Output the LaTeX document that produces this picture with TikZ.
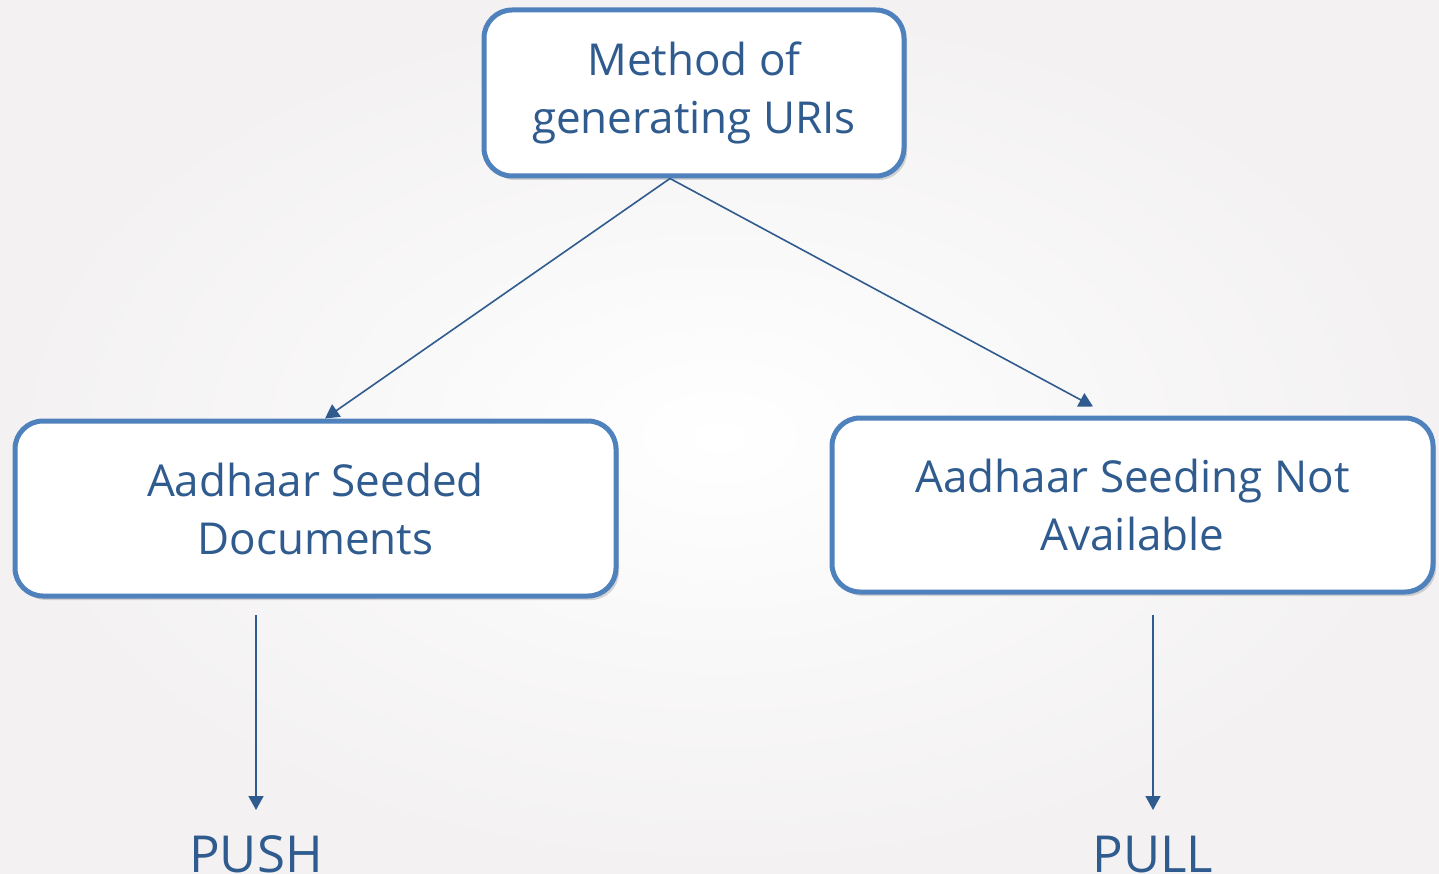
\documentclass[tikz,border=0pt]{standalone}
\usepackage{fontspec}
\setmainfont{Open Sans}
\usetikzlibrary{shadows,arrows.meta}
\definecolor{boxblue}{HTML}{4F81BD}
\definecolor{txtblue}{HTML}{2F5B8E}
\definecolor{bgedge}{HTML}{F3F1F1}
\begin{document}
\begin{tikzpicture}[x=1pt,y=-1pt,
  box/.style={draw=boxblue, line width=5pt, rounded corners=28pt, fill=white,
    drop shadow={shadow xshift=3pt,shadow yshift=-4pt,opacity=0.25,fill=black!60},
    text=txtblue, align=center, font=\fontsize{44}{58}\selectfont, inner sep=0pt},
  conn/.style={draw=txtblue, line width=1.6pt, -{Triangle[length=14pt,width=15pt]}},
  lbl/.style={text=txtblue, font=\fontsize{51}{51}\selectfont, inner sep=0pt}]
\shade[inner color=white, outer color=bgedge] (0,0) rectangle (1439,874);
\useasboundingbox (0,0) rectangle (1439,874);
\node[box, minimum width=420pt, minimum height=166pt] (top) at (694,93) {Method of\\generating URIs};
\node[box, minimum width=601pt, minimum height=175pt] (left) at (315.5,508.5) {Aadhaar Seeded\\Documents};
\node[box, minimum width=601pt, minimum height=174pt] (right) at (1132.5,505) {Aadhaar Seeding Not\\Available};
\node[lbl, anchor=base] (push) at (256,872) {PUSH};
\node[lbl, anchor=base] (pull) at (1153,872) {PULL};
\coordinate (pushsrc) at (256,615);
\coordinate (pullsrc) at (1153,615);
\coordinate (pushend) at (256,810);
\coordinate (pullend) at (1153,810);
\draw[conn] ([xshift=-24pt]top.south) -- ([xshift=9.5pt]left.north);
\draw[conn] ([xshift=-24pt]top.south) -- ([xshift=-39.5pt,yshift=9pt]right.north);
\draw[conn] (pushsrc) -- (pushend);
\draw[conn] (pullsrc) -- (pullend);
\end{tikzpicture}
\end{document}
